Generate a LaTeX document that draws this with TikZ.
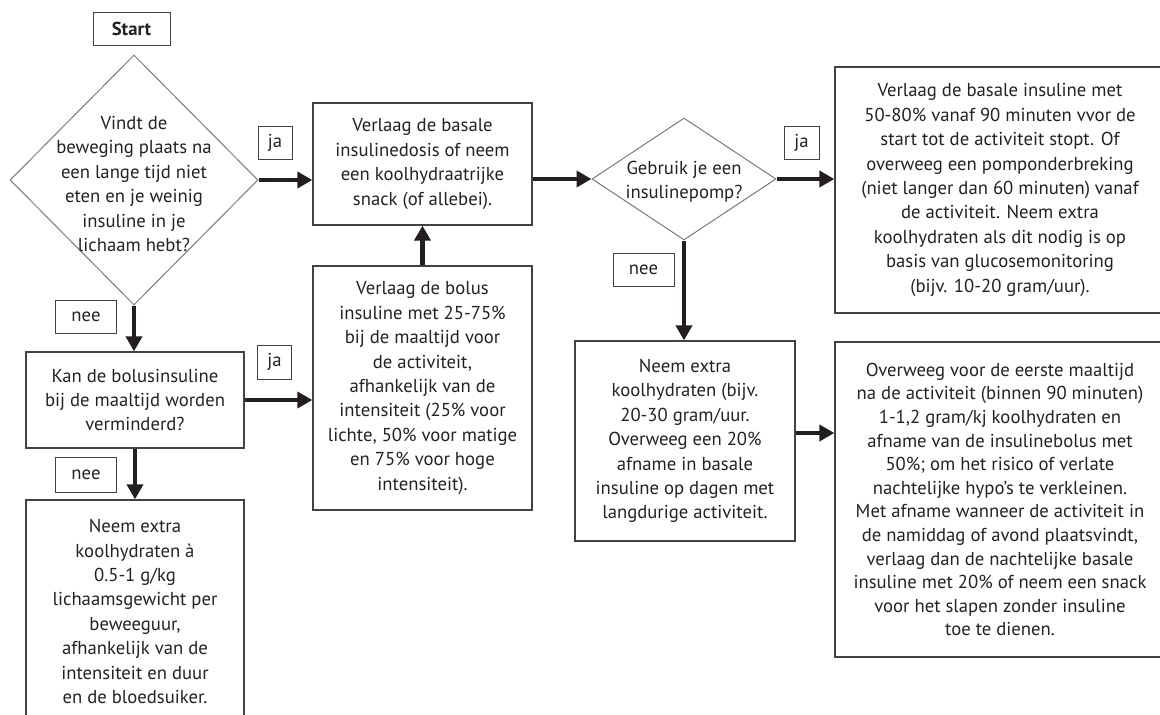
\documentclass[tikz,border=0pt]{standalone}
\usepackage{fontspec}
\setmainfont{PT Sans}
\usetikzlibrary{shapes.geometric,arrows.meta}
\definecolor{ink}{HTML}{231F20}
\definecolor{txt}{HTML}{222222}
\definecolor{dgray}{HTML}{7A7A7A}
\begin{document}
\begin{tikzpicture}[x=1pt,y=-1pt,
 every node/.style={font=\fontsize{18.7}{24.4}\selectfont, text=txt},
 box/.style={draw=ink!85, line width=1.3pt, align=center, inner sep=0pt},
 lab/.style={draw=ink!85, line width=1pt, inner sep=0pt},
 dia/.style={diamond, draw=dgray, line width=1pt, inner sep=0pt},
 arr/.style={draw=ink, line width=4.5pt, -{Triangle[length=15pt,width=16pt]}},
 txtn/.style={align=center, inner sep=0pt}]
\useasboundingbox (0,0) rectangle (1160,715);
\clip (0,0) rectangle (1160,715);
% start
\node[lab, minimum width=77, minimum height=33, font=\bfseries\fontsize{18.7}{24.4}\selectfont] (start) at (131.5,28.5) {Start};
% decision 1
\node[dia, minimum width=248, minimum height=250] (d1) at (134,180) {};
\node[txtn] (d1t) at (134,184) {Vindt de\\beweging plaats na\\een lange tijd niet\\eten en je weinig\\insuline in je\\lichaam hebt?};
% box 1
\node[box, minimum width=219, minimum height=122] (b1) at (422.5,164) {Verlaag de basale\\insulinedosis of neem\\een koolhydraatrijke\\snack (of allebei).};
% decision 2
\node[dia, minimum width=184, minimum height=122] (d2) at (684,179) {};
\node[txtn] (d2t) at (684,182) {Gebruik je een\\insulinepomp?};
% top right
\node[box, minimum width=330, minimum height=246] (tr) at (1000,190) {Verlaag de basale insuline met\\50-80\% vanaf 90 minuten vvor de\\start tot de activiteit stopt. Of\\overweeg een pomponderbreking\\(niet langer dan 60 minuten) vanaf\\de activiteit. Neem extra\\koolhydraten als dit nodig is op\\basis van glucosemonitoring\\(bijv. 10-20 gram/uur).};
% box 5
\node[box, minimum width=220, minimum height=200] (b5) at (685,441) {Neem extra\\koolhydraten (bijv.\\20-30 gram/uur.\\Overweeg een 20\%\\afname in basale\\insuline op dagen met\\langdurige activiteit.};
% bottom right
\node[box, minimum width=330, minimum height=315, font=\fontsize{18.7}{23.6}\selectfont] (br) at (1000,499.5) {Overweeg voor de eerste maaltijd\\na de activiteit (binnen 90 minuten)\\1-1,2 gram/kj koolhydraten en\\afname van de insulinebolus met\\50\%; om het risico of verlate\\nachtelijke hypo's te verkleinen.\\Met afname wanneer de activiteit in\\de namiddag of avond plaatsvindt,\\verlaag dan de nachtelijke basale\\insuline met 20\% of neem een snack\\voor het slapen zonder insuline\\toe te dienen.};
% box 2
\node[box, minimum width=218, minimum height=96] (b2) at (135,400) {Kan de bolusinsuline\\bij de maaltijd worden\\verminderd?};
% box 3
\node[box, minimum width=219, minimum height=244] (b3) at (422.5,388) {Verlaag de bolus\\insuline met 25-75\%\\bij de maaltijd voor\\de activiteit,\\afhankelijk van de\\intensiteit (25\% voor\\lichte, 50\% voor matige\\en 75\% voor hoge\\intensiteit).};
% box 4
\node[box, minimum width=218, minimum height=223] (b4) at (135,611.5) {Neem extra\\koolhydraten à\\0.5-1 g/kg\\lichaamsgewicht per\\beweeguur,\\afhankelijk van de\\intensiteit en duur\\en de bloedsuiker.};
% labels
\node[lab, minimum width=34, minimum height=33] (ja1) at (275,142.5) {ja};
\node[lab, minimum width=35, minimum height=33] (ja2) at (801.5,143) {ja};
\node[lab, minimum width=34, minimum height=34] (ja3) at (274.5,362) {ja};
\node[lab, minimum width=61, minimum height=33] (nee1) at (86,316.5) {nee};
\node[lab, minimum width=61, minimum height=33] (nee2) at (643.5,270) {nee};
\node[lab, minimum width=61, minimum height=35] (nee3) at (86,474.5) {nee};
% arrows
\draw[arr] (d1.east) -- (d1.east -| b1.west);
\draw[arr] (b1.east |- d2.west) -- (d2.west);
\draw[arr] (d2.east) -- (d2.east -| tr.west);
\draw[arr] (d2.south) -- (d2.south |- b5.north);
\draw[arr] ([yshift=8pt]b5.east) -- ([yshift=8pt]b5.east -| br.west);
\draw[arr] (d1.south) -- (d1.south |- b2.north);
\draw[arr] (b2.east) -- (b2.east -| b3.west);
\draw[arr] (b3.north) -- (b3.north |- b1.south);
\draw[arr] (b2.south) -- (b2.south |- b4.north);
\end{tikzpicture}
\end{document}
